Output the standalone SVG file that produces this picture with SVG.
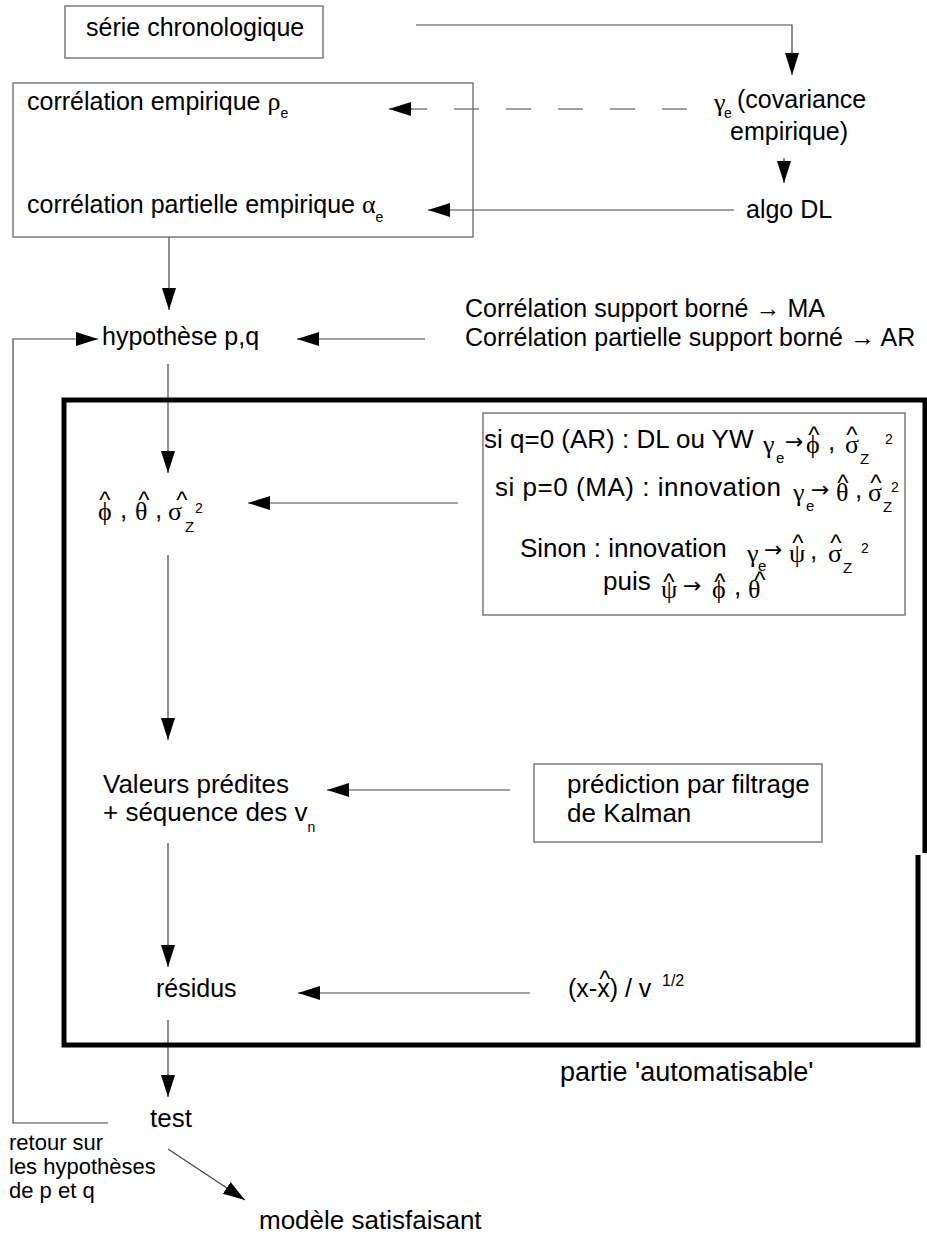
<svg xmlns="http://www.w3.org/2000/svg" width="927" height="1236" viewBox="0 0 927 1236">
<defs>
<marker id="ah" markerUnits="userSpaceOnUse" viewBox="0 0 23 15" markerWidth="23" markerHeight="15" refX="22" refY="7" orient="auto">
<path d="M0,0 L22,7 L0,14 Z" fill="#000"/>
</marker>
<style>
.t{font-family:"Liberation Sans",Arial,sans-serif;font-size:25px;fill:#000}
.f{font-family:"Liberation Sans",Arial,sans-serif;font-size:26px;fill:#000}
.g{font-family:"Liberation Serif","Times New Roman",serif;font-size:26px;fill:#000}
.a{font-family:"DejaVu Sans",sans-serif;font-size:22px;fill:#000}
.ss{font-family:"Liberation Sans",Arial,sans-serif;font-size:14px;fill:#000}
.sz{font-family:"Liberation Sans",Arial,sans-serif;font-size:15px;fill:#000}
.sm{font-family:"Liberation Sans",Arial,sans-serif;font-size:22px;fill:#000}
.h{font-family:"Liberation Sans",Arial,sans-serif;font-size:24px;fill:#000;text-anchor:middle}
.box{fill:none;stroke:#666;stroke-width:1.3}
.c{fill:none;stroke:#444;stroke-width:1.2}
.arr{marker-end:url(#ah)}
.dash{stroke-dasharray:25 27}
.frame{fill:none;stroke:#000;stroke-width:5}
</style>
</defs>
<rect width="927" height="1236" fill="#fff"/>

<g id="connectors">
<path class="c arr" d="M416,25 H792 V75"/>
<line class="c arr" x1="784" y1="158" x2="784" y2="183"/>
<line class="c dash" x1="687" y1="109" x2="410" y2="109"/>
<line class="c arr" x1="412" y1="109" x2="389" y2="109"/>
<line class="c arr" x1="734" y1="210" x2="428" y2="210"/>
<line class="c arr" x1="169" y1="237" x2="169" y2="310"/>
<line class="c arr" x1="425" y1="339" x2="297" y2="339"/>
<path class="c arr" d="M108,1123 H13 V339 H98"/>
<line class="c arr" x1="168" y1="364" x2="168" y2="473"/>
<line class="c arr" x1="458" y1="503" x2="248" y2="503"/>
<line class="c arr" x1="168" y1="555" x2="168" y2="740"/>
<line class="c arr" x1="510" y1="790" x2="327" y2="790"/>
<line class="c arr" x1="168" y1="843" x2="168" y2="967"/>
<line class="c arr" x1="530" y1="993" x2="298" y2="993"/>
<line class="c arr" x1="168" y1="1020" x2="168" y2="1097"/>
<line class="c arr" x1="168" y1="1149" x2="245" y2="1200"/>
</g>

<g id="automatisable">
<path class="frame" d="M918,855 V1045 H64 V400 H925 V853"/>
<text class="t" x="560" y="1081" style="font-size:27px">partie 'automatisable'</text>
</g>

<g id="serie">
<rect class="box" x="65" y="6" width="258" height="52"/>
<text class="t" x="86" y="36">série chronologique</text>
</g>

<g id="correlations">
<rect class="box" x="13" y="83" width="460" height="154"/>
<text class="t" x="27" y="110">corrélation empirique <tspan class="g">ρ</tspan><tspan class="ss" dy="8">e</tspan></text>
<text class="t" x="27" y="213">corrélation partielle empirique <tspan class="g">α</tspan><tspan class="ss" dy="9">e</tspan></text>
</g>

<g id="covariance">
<text class="g" x="714" y="111">γ</text>
<text class="ss" x="724" y="118">e</text>
<text class="t" x="737" y="108">(covariance</text>
<text class="t" x="730" y="140">empirique)</text>
</g>

<g id="algoDL">
<text class="t" x="746" y="218">algo DL</text>
</g>

<g id="hypothese">
<text class="t" x="102" y="345">hypothèse p,q</text>
</g>

<g id="regles">
<text class="t" x="465" y="317">Corrélation support borné → MA</text>
<text class="t" x="465" y="346">Corrélation partielle support borné → AR</text>
</g>

<g id="estimateurs">
<text class="g" x="98" y="520">ϕ</text>
<text class="f" x="120" y="518">,</text>
<text class="g" x="135" y="520">θ</text>
<text class="f" x="155" y="518">,</text>
<text class="g" x="168" y="520">σ</text>
<text class="sz" x="185" y="532">Z</text>
<text class="ss" x="195" y="513">2</text>
<text class="h" x="105" y="508">^</text>
<text class="h" x="144" y="508">^</text>
<text class="h" x="182" y="508">^</text>
</g>

<g id="methodes">
<rect class="box" x="483" y="413" width="422" height="202"/>
<text class="f" x="484" y="448">si q=0 (AR) : DL ou YW</text>
<text class="g" x="763" y="453">γ</text>
<text class="sz" x="776" y="463">e</text>
<text class="a" x="785" y="449">→</text>
<text class="g" x="806" y="453">ϕ</text>
<text class="f" x="828" y="450">,</text>
<text class="g" x="845" y="453">σ</text>
<text class="sz" x="860" y="464">Z</text>
<text class="ss" x="885" y="444">2</text>
<text class="h" x="814" y="443">^</text>
<text class="h" x="852" y="443">^</text>

<text class="f" x="495" y="496" textLength="286" lengthAdjust="spacing">si p=0 (MA) : innovation</text>
<text class="g" x="793" y="501">γ</text>
<text class="sz" x="806" y="511">e</text>
<text class="a" x="811" y="497">→</text>
<text class="g" x="836" y="501">θ</text>
<text class="f" x="855" y="498">,</text>
<text class="g" x="868" y="501">σ</text>
<text class="sz" x="883" y="512">Z</text>
<text class="ss" x="891" y="492">2</text>
<text class="h" x="843" y="491">^</text>
<text class="h" x="876" y="491">^</text>

<text class="f" x="520" y="557">Sinon : innovation</text>
<text class="g" x="747" y="562">γ</text>
<text class="sz" x="758" y="571">e</text>
<text class="a" x="764" y="557">→</text>
<text class="g" x="789" y="562">ψ</text>
<text class="f" x="810" y="559">,</text>
<text class="g" x="828" y="562">σ</text>
<text class="sz" x="843" y="573">Z</text>
<text class="ss" x="861" y="553">2</text>
<text class="h" x="798" y="551">^</text>
<text class="h" x="836" y="551">^</text>

<text class="f" x="603" y="590">puis</text>
<text class="g" x="661" y="598">ψ</text>
<text class="a" x="683" y="593">→</text>
<text class="g" x="712" y="598">ϕ</text>
<text class="f" x="734" y="595">,</text>
<text class="g" x="748" y="598">θ</text>
<text class="h" x="669" y="590">^</text>
<text class="h" x="720" y="590">^</text>
<text class="h" x="760" y="588">^</text>
</g>

<g id="valeurs">
<text class="f" x="103" y="793">Valeurs prédites</text>
<text class="f" x="103" y="821">+ séquence des v<tspan class="ss" dy="11">n</tspan></text>
</g>

<g id="kalman">
<rect class="box" x="534" y="764" width="288" height="78"/>
<text class="f" x="567" y="793">prédiction par filtrage</text>
<text class="f" x="567" y="822">de Kalman</text>
</g>

<g id="residus">
<text class="t" x="156" y="997">résidus</text>
</g>

<g id="normalisation">
<text class="t" x="568" y="997">(x-x) / v</text>
<text class="h" x="605" y="987">^</text>
<text class="ss" x="662" y="986" style="font-size:16px">1/2</text>
</g>

<g id="test">
<text class="f" x="150" y="1127">test</text>
</g>

<g id="retour">
<text class="sm" x="9" y="1150">retour sur</text>
<text class="sm" x="9" y="1174">les hypothèses</text>
<text class="sm" x="9" y="1198">de p et q</text>
</g>

<g id="modele">
<text class="f" x="259" y="1229">modèle satisfaisant</text>
</g>
</svg>
